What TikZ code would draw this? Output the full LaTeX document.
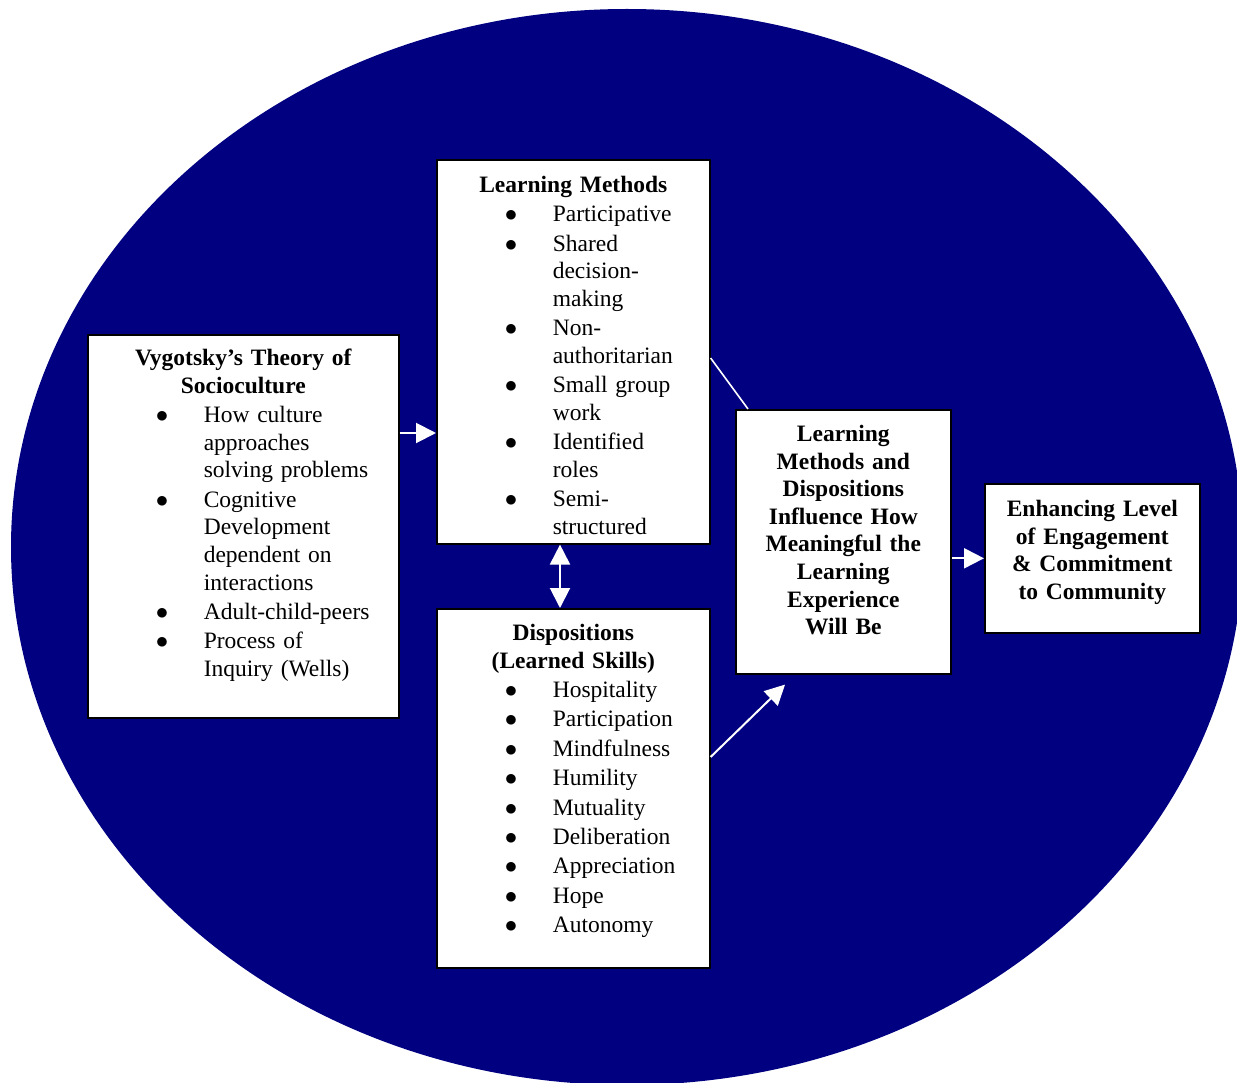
\documentclass[tikz,border=0pt]{standalone}
\usepackage{fontspec}
\setmainfont{Liberation Serif}
\usetikzlibrary{arrows.meta,positioning}
\definecolor{navyfill}{RGB}{0,0,128}
\newcommand{\boxfont}{\fontsize{23.5}{27.6}\selectfont\setlength{\parskip}{1.8pt}\setlength{\lineskip}{0pt}}
\newcommand{\boxtitle}[1]{{\centering\bfseries #1\par}}
\newcommand{\bitem}[1]{\par\noindent\makebox[116pt][l]{\hspace{68pt}$\bullet$}%
  \parbox[t]{\dimexpr\linewidth-116pt\relax}{\raggedright\strut #1\strut}}
\begin{document}
\begin{tikzpicture}[x=1pt, y=-1pt, >=Triangle,
    box/.style={draw=black, line width=1.6pt, fill=white, inner sep=0pt, anchor=north west},
    listtext/.style={anchor=north, inner sep=0pt, align=left, font=\boxfont},
    boldtext/.style={anchor=north, inner sep=0pt, align=center, font=\boxfont\bfseries},
    arr/.style={draw=white, line width=2pt, -{Triangle[length=20pt,width=20pt]}}]
  \useasboundingbox (0,0) rectangle (1237,1083);
  \clip (0,0) rectangle (1237,1083);
  % background ellipse
  \fill[navyfill] (627,547) ellipse [x radius=616pt, y radius=538pt];

  % boxes
  \node[box, minimum width=311pt, minimum height=383pt] (vyg) at (87,334) {};
  \node[box, minimum width=273pt, minimum height=384pt] (lm) at (436,159) {};
  \node[box, minimum width=273pt, minimum height=359pt] (disp) at (436,608) {};
  \node[box, minimum width=215pt, minimum height=264pt] (mid) at (735,409) {};
  \node[box, minimum width=215pt, minimum height=149pt] (right) at (984,483) {};

  % box texts
  \node[listtext, text width=311pt] (vygtext) at ([yshift=-15pt]vyg.north) {%
    \boxtitle{Vygotsky’s Theory of\\Socioculture}
    \bitem{How culture\\approaches\\solving problems}
    \bitem{Cognitive\\Development\\dependent on\\interactions}
    \bitem{Adult-child-peers}
    \bitem{Process of\\Inquiry (Wells)}};
  \node[listtext, text width=273pt] (lmtext) at ([yshift=-17pt]lm.north) {%
    \boxtitle{Learning Methods}
    \bitem{Participative}
    \bitem{Shared\\decision-\\making}
    \bitem{Non-\\authoritarian}
    \bitem{Small group\\work}
    \bitem{Identified\\roles}
    \bitem{Semi-\\structured}};
  \node[listtext, text width=273pt] (disptext) at ([yshift=-16pt]disp.north) {%
    \boxtitle{Dispositions\\(Learned Skills)}
    \bitem{Hospitality}
    \bitem{Participation}
    \bitem{Mindfulness}
    \bitem{Humility}
    \bitem{Mutuality}
    \bitem{Deliberation}
    \bitem{Appreciation}
    \bitem{Hope}
    \bitem{Autonomy}};
  \node[boldtext, text width=215pt] (midtext) at ([yshift=-16pt]mid.north) {Learning\\Methods and\\Dispositions\\Influence How\\Meaningful the\\Learning\\Experience\\Will Be};
  \node[boldtext, text width=215pt] (righttext) at ([yshift=-17pt]right.north) {Enhancing Level\\of Engagement\\\& Commitment\\to Community};

  % connectors
  \draw[arr] (vyg.east |- 0,433) -- (lm.west |- 0,433);
  \draw[arr, {Triangle[length=20pt,width=20pt]}-{Triangle[length=20pt,width=20pt]}] (lm.south -| 560,0) -- (disp.north -| 560,0);
  \draw[draw=white, line width=1.6pt] (lm.east |- 0,358) -- ([xshift=13pt]mid.north west);
  \draw[arr] (disp.east |- 0,757) -- ([xshift=50pt,yshift=-10pt]mid.south west);
  \draw[arr] (mid.east |- right.west) -- (right.west);
\end{tikzpicture}
\end{document}
